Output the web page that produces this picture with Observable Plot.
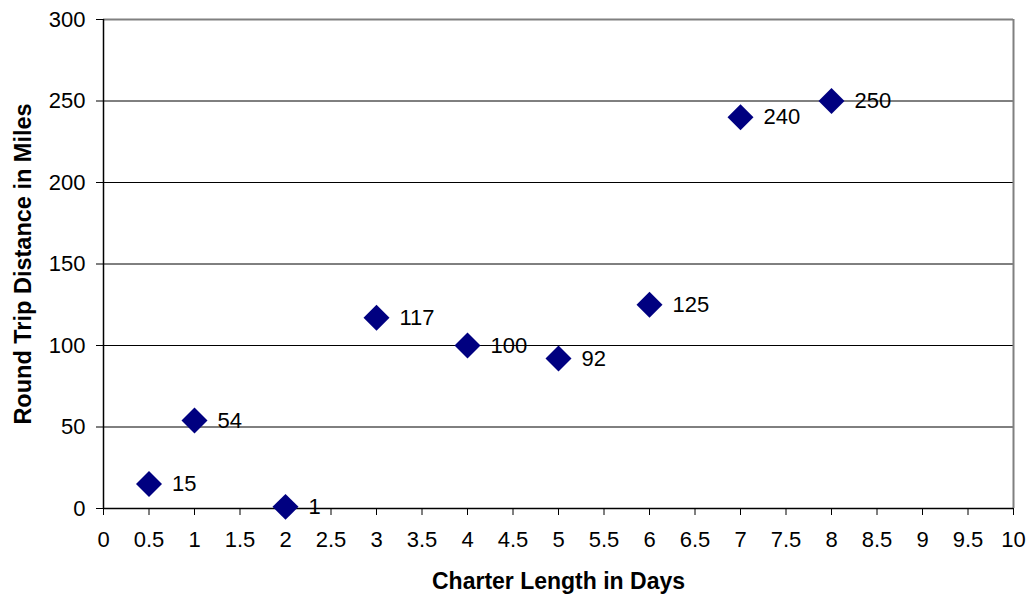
<!DOCTYPE html>
<html>
<head>
<meta charset="utf-8">
<script src="https://cdn.jsdelivr.net/npm/d3@7"></script>
<script src="https://cdn.jsdelivr.net/npm/@observablehq/plot@0.6"></script>
<style>
  html, body { margin: 0; padding: 0; background: #fff; }
  #chart svg { display: block; }
</style>
</head>
<body>
<div id="chart"></div>
<script>
// Charter length (days) vs. round trip distance (miles)
const days = [0.5, 1, 2, 3, 4, 5, 6, 7, 8];
const miles = [15, 54, 1, 117, 100, 92, 125, 240, 250];
const xTicks = d3.range(0, 10.01, 0.5);
const yTicks = [0, 50, 100, 150, 200, 250, 300];
const gridValues = [50, 100, 150, 200, 250];
const xTitle = "Charter Length in Days";
const yTitle = "Round Trip Distance in Miles";

const points = days.map((d, i) => ({days: d, miles: miles[i]}));

const navy = "#000080";
const font = "'Liberation Sans', Arial, sans-serif";

const chart = Plot.plot({
  width: 1029,
  height: 599,
  marginLeft: 103,
  marginRight: 16,
  marginTop: 19,
  marginBottom: 91,
  style: {fontFamily: font, fontSize: "22px", color: "#000", background: "#fff"},
  x: {domain: [0, 10]},
  y: {domain: [0, 300]},
  marks: [
    // horizontal gridlines
    Plot.ruleY(gridValues, {stroke: "#000", strokeWidth: 1, strokeOpacity: 1}),
    // plot-area border (top and right)
    Plot.ruleY([300], {stroke: "#808080", strokeWidth: 2}),
    Plot.ruleX([10], {stroke: "#808080", strokeWidth: 2}),
    // axes
    Plot.axisX({
      ticks: xTicks, tickSize: 7, tickPadding: 16,
      tickFormat: d => String(d),
      stroke: "#000", fill: "#000", strokeOpacity: 1, fontSize: 22,
      label: xTitle, labelAnchor: "center", labelArrow: "none",
      labelOffset: 80
    }),
    Plot.axisY({
      ticks: yTicks, tickSize: 7, tickPadding: 11,
      tickFormat: d => String(d),
      stroke: "#000", fill: "#000", strokeOpacity: 1, fontSize: 22,
      label: yTitle, labelAnchor: "center", labelArrow: "none",
      labelOffset: 89
    }),
    Plot.ruleX([0], {stroke: "#000", strokeWidth: 1.5}),
    Plot.ruleY([0], {stroke: "#000", strokeWidth: 1.5}),
    // data points
    Plot.dot(points, {x: "days", y: "miles", symbol: "diamond2", r: 11.7, fill: navy, stroke: "none"}),
    Plot.text(points, {x: "days", y: "miles", text: d => String(d.miles), dx: 23, textAnchor: "start", fill: "#000", fontSize: 22})
  ]
});

// bold, slightly larger axis titles
chart.querySelectorAll("text").forEach(t => {
  const s = t.textContent;
  if (s === xTitle) {
    t.setAttribute("font-weight", "bold");
    t.setAttribute("font-size", "23px");
  } else if (s === yTitle) {
    t.setAttribute("font-weight", "bold");
    t.setAttribute("font-size", "23.5px");
  }
});

document.getElementById("chart").append(chart);
</script>
</body>
</html>
